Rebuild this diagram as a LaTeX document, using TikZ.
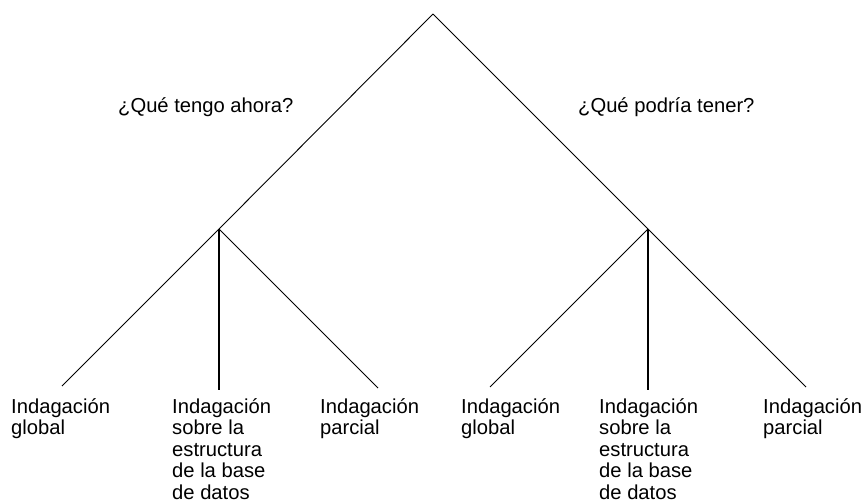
\documentclass[tikz,border=0pt]{standalone}
\usepackage{fontspec}
\setmainfont{Liberation Sans}
\begin{document}
\begin{tikzpicture}[x=1pt,y=-1pt,
  diag/.style={line width=0.9pt,black},
  vert/.style={line width=2pt,black},
  lbl/.style={inner sep=0pt,anchor=base west,
    font=\fontsize{20.2pt}{21.5pt}\selectfont}]
\useasboundingbox (0,0) rectangle (866,502);
% branching points
\coordinate (apex) at (433,14);
\coordinate (lc) at (219,229);
\coordinate (rc) at (648,229);
% free ends of the leaf connectors
\coordinate (l1) at (62,386);
\coordinate (l2) at (219,390);
\coordinate (l3) at (378,388);
\coordinate (r1) at (490,387);
\coordinate (r2) at (648,390);
\coordinate (r3) at (806,387);
% questions
\node[lbl] (q1) at (118,113) {¿Qué tengo ahora?};
\node[lbl] (q2) at (578,113) {¿Qué podría tener?};
% leaves
\node[lbl] (a1) at (11,413) {\vtop{\hbox{Indagación}\hbox{global}}};
\node[lbl] (a2) at (172,413) {\vtop{\hbox{Indagación}\hbox{sobre la}\hbox{estructura}\hbox{de la base}\hbox{de datos}}};
\node[lbl] (a3) at (320,413) {\vtop{\hbox{Indagación}\hbox{parcial}}};
\node[lbl] (b1) at (461,413) {\vtop{\hbox{Indagación}\hbox{global}}};
\node[lbl] (b2) at (599,413) {\vtop{\hbox{Indagación}\hbox{sobre la}\hbox{estructura}\hbox{de la base}\hbox{de datos}}};
\node[lbl] (b3) at (763,413) {\vtop{\hbox{Indagación}\hbox{parcial}}};
% connectors
\draw[diag] (apex) -- (lc) -- (l1);
\draw[diag] (apex) -- (rc) -- (r3);
\draw[diag] (lc) -- (l3);
\draw[diag] (rc) -- (r1);
\draw[vert] (lc) -- (l2);
\draw[vert] (rc) -- (r2);
\end{tikzpicture}
\end{document}
